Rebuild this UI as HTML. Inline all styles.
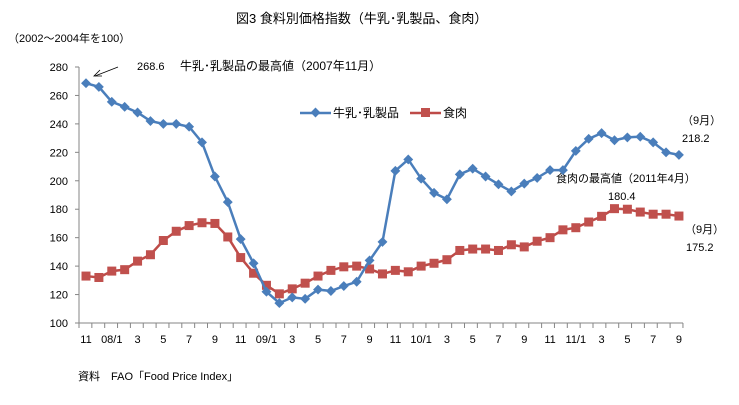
<!DOCTYPE html>
<html><head><meta charset="utf-8"><style>
body{margin:0;background:#fff;}
svg text{font-family:"Liberation Sans","Noto Sans CJK JP",sans-serif;fill:#000;}
</style></head><body>
<svg id="c" width="739" height="400" xmlns="http://www.w3.org/2000/svg">
<text x="236" y="23" font-size="13">図3  食料別価格指数（牛乳･乳製品、食肉）</text>
<text x="8" y="42" font-size="11">（2002～2004年を100）</text>
<text x="180" y="70" font-size="12">牛乳･乳製品の最高値（2007年11月）</text>
<text x="137" y="70" font-size="11">268.6</text>
<line x1="118" y1="67" x2="95" y2="76" stroke="#000" stroke-width="0.8"/>
<path d="M100 70 L94 76 L102 76" fill="none" stroke="#000" stroke-width="0.8"/>
<text x="682" y="124" font-size="11">（9月）</text>
<text x="682" y="142" font-size="11">218.2</text>
<text x="556" y="182" font-size="11">食肉の最高値（2011年4月）</text>
<text x="608" y="200" font-size="11">180.4</text>
<text x="685" y="233" font-size="11">（9月）</text>
<text x="686" y="251" font-size="11">175.2</text>
<line x1="300" y1="113" x2="331" y2="113" stroke="#4a7ebb" stroke-width="2.5"/>
<rect x="312" y="109" width="7" height="7" fill="#4a7ebb" transform="rotate(45 315.5 112.5)"/>
<text x="333" y="117" font-size="12">牛乳･乳製品</text>
<line x1="410" y1="113" x2="441" y2="113" stroke="#be4b48" stroke-width="2.5"/>
<rect x="421" y="108" width="9" height="9" fill="#c0504d"/>
<text x="443" y="117" font-size="12">食肉</text>
<text x="78" y="380" font-size="11">資料　FAO「Food Price Index」</text>
<g id="g"></g>
</svg>
<script>
var d=[268.6,266,255.5,252,248,242,240,240,238,227,203,185,159,142,122,114,118,117,123.5,122.5,126,129,144,157,207,215,201.5,191.5,187,204.5,208.5,203,197.5,192.5,198,202,207.5,207.5,221,229.5,233.5,228.5,230.5,231,227,220,218.2];
var m=[133,132,136.5,137.5,143.5,148,158,164.5,168.5,170.5,170,160.5,146,135,126.5,120.5,124,128,133,137,139.5,140,138,134.5,137,136,140,142,144.5,151,152,152,151,155,153.5,157.5,160,165.5,167,171,175,180.4,180,178,176.5,176.5,175.2];
var X=function(i){return 86+i*12.89},Y=function(v){return 323-(v-100)*256/180};
var s='';
s+='<line x1="79" y1="67" x2="79" y2="323" stroke="#868686"/><line x1="79" y1="323" x2="683" y2="323" stroke="#868686"/>';
for(var v=100;v<=280;v+=20){var y=Y(v);s+='<line x1="75" y1="'+y+'" x2="79" y2="'+y+'" stroke="#868686"/><text x="68" y="'+(y+4)+'" font-size="11" text-anchor="end">'+v+'</text>';}
for(var i=0;i<=47;i++){var x=79+i*12.85;s+='<line x1="'+x+'" y1="323" x2="'+x+'" y2="328" stroke="#868686"/>';}
var lab=['11','08/1','3','5','7','9','11','09/1','3','5','7','9','11','10/1','3','5','7','9','11','11/1','3','5','7','9'];
for(var k=0;k<lab.length;k++){s+='<text x="'+X(k*2)+'" y="343" font-size="11" text-anchor="middle">'+lab[k]+'</text>';}
var p1=d.map(function(v,i){return X(i)+','+Y(v)}).join(' ');
var p2=m.map(function(v,i){return X(i)+','+Y(v)}).join(' ');
s+='<polyline points="'+p2+'" fill="none" stroke="#be4b48" stroke-width="2.5"/>';
m.forEach(function(v,i){s+='<rect x="'+(X(i)-4.5)+'" y="'+(Y(v)-4.5)+'" width="9" height="9" fill="#c0504d"/>';});
s+='<polyline points="'+p1+'" fill="none" stroke="#4a7ebb" stroke-width="2.5"/>';
d.forEach(function(v,i){var x=X(i),y=Y(v);s+='<rect x="'+(x-3.5)+'" y="'+(y-3.5)+'" width="7" height="7" fill="#4a7ebb" transform="rotate(45 '+x+' '+y+')"/>';});
document.getElementById('g').innerHTML=s;
</script>
</body></html>
